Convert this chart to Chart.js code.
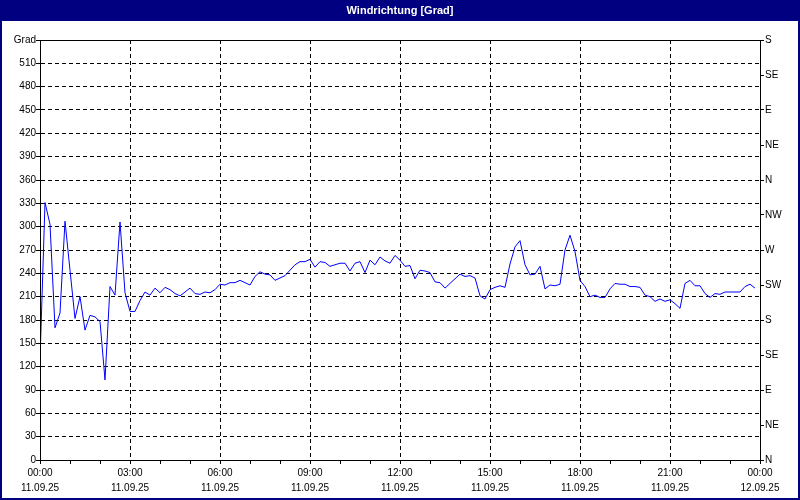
<!DOCTYPE html>
<html>
<head>
<meta charset="utf-8">
<script src="https://cdn.jsdelivr.net/npm/chart.js@4"></script>
<style>
html, body { margin: 0; padding: 0; background: #fff; }
#wrap { width: 800px; height: 500px; }
</style>
</head>
<body>
<div id="wrap"><canvas id="chart" width="800" height="500"></canvas></div>
<script>
// Wind direction in degrees, one reading every 10 minutes from 00:00
const windDir = [
    128, 331, 303, 170, 189, 307, 244, 182, 210, 167, 186, 184,
    178, 103, 223, 212, 306, 215, 191, 191, 205, 216, 212, 221,
    215, 222, 219, 214, 211, 216, 221, 214, 213, 216, 215, 219,
    226, 225, 228, 228, 231, 228, 225, 236, 242, 239, 238, 231,
    234, 237, 244, 251, 255, 255, 258, 248, 255, 254, 249, 251,
    253, 253, 243, 253, 255, 241, 257, 251, 261, 256, 253, 263,
    257, 249, 250, 233, 244, 243, 241, 229, 228, 221, 227, 233,
    239, 236, 237, 234, 211, 207, 219, 222, 224, 222, 252, 274,
    282, 251, 238, 239, 249, 220, 225, 224, 226, 270, 289, 268,
    231, 223, 210, 212, 209, 209, 220, 227, 226, 226, 223, 223,
    222, 212, 210, 204, 207, 204, 206, 201, 195, 227, 231, 224,
    224, 214, 209, 214, 213, 216, 216, 216, 216, 223, 226, 221
];
const stepMinutes = 10;

// tick labels
const timeLabels = ['00:00', '03:00', '06:00', '09:00', '12:00', '15:00', '18:00', '21:00', '00:00'];
const dateLabels = ['11.09.25', '11.09.25', '11.09.25', '11.09.25', '11.09.25', '11.09.25', '11.09.25', '11.09.25', '12.09.25'];
const dirLabels = ['N', 'NE', 'E', 'SE', 'S', 'SW', 'W', 'NW', 'N', 'NE', 'E', 'SE', 'S'];

const FONT = { family: '"Liberation Sans", Arial, sans-serif', size: 10 };

// title bar, white background and frames
const framePlugin = {
    id: 'frame',
    beforeDraw(c) {
        const ctx = c.ctx;
        ctx.save();
        ctx.fillStyle = '#ffffff';
        ctx.fillRect(0, 0, c.width, c.height);
        ctx.fillStyle = '#000080';
        ctx.fillRect(0, 0, c.width, 21);
        ctx.fillStyle = '#ffffff';
        ctx.font = 'bold 11px "Liberation Sans", Arial, sans-serif';
        ctx.textAlign = 'center';
        ctx.textBaseline = 'middle';
        ctx.fillText('Windrichtung [Grad]', c.width / 2, 11);
        ctx.restore();
    },
    afterDraw(c) {
        const ctx = c.ctx;
        const a = c.chartArea;
        ctx.save();
        ctx.strokeStyle = '#000';
        ctx.lineWidth = 1;
        ctx.strokeRect(Math.round(a.left) + 0.5, Math.round(a.top) + 0.5,
            Math.round(a.right - a.left), Math.round(a.bottom - a.top));
        ctx.strokeStyle = '#000080';
        ctx.lineWidth = 2;
        ctx.strokeRect(1, 1, c.width - 2, c.height - 2);
        ctx.restore();
    }
};

const points = windDir.map((v, i) => ({ x: i * stepMinutes, y: v }));

new Chart(document.getElementById('chart'), {
    type: 'line',
    data: {
        datasets: [{
            label: 'Windrichtung',
            data: points,
            borderColor: '#0000ff',
            borderWidth: 1,
            pointRadius: 0,
            tension: 0,
            fill: false
        }]
    },
    options: {
        responsive: false,
        animation: false,
        layout: { padding: { top: 40, left: 0, right: 0, bottom: 0 } },
        plugins: { legend: { display: false }, tooltip: { enabled: false }, title: { display: false } },
        scales: {
            x: {
                type: 'linear',
                min: 0,
                max: 1440,
                afterFit: s => { s.height = 40; },
                afterBuildTicks: s => {
                    s.ticks = [];
                    for (let m = 0; m <= 1440; m += 60) s.ticks.push({ value: m });
                },
                ticks: {
                    autoSkip: false,
                    maxRotation: 0,
                    padding: 2,
                    color: '#000',
                    font: { family: FONT.family, size: 10, lineHeight: 1.5 },
                    callback: v => v % 180 === 0 ? [timeLabels[v / 180], dateLabels[v / 180]] : ''
                },
                grid: {
                    color: ctx => (ctx.tick && ctx.tick.value % 180 === 0) ? '#000' : 'rgba(0,0,0,0)',
                    tickColor: '#000',
                    tickLength: 4,
                    tickBorderDash: [],
                    lineWidth: 1
                },
                border: { color: '#000', dash: [4, 3] }
            },
            y: {
                position: 'left',
                min: 0,
                max: 540,
                afterFit: s => { s.width = 40; },
                ticks: {
                    stepSize: 30,
                    padding: 0,
                    color: '#000',
                    font: FONT,
                    callback: v => v === 540 ? 'Grad' : v
                },
                grid: { color: '#000', tickColor: '#000', tickLength: 4, tickBorderDash: [] },
                border: { color: '#000', dash: [4, 3] }
            },
            y2: {
                position: 'right',
                min: 0,
                max: 540,
                afterFit: s => { s.width = 40; },
                ticks: {
                    stepSize: 45,
                    padding: 1,
                    color: '#000',
                    font: FONT,
                    callback: v => dirLabels[Math.round(v / 45)]
                },
                grid: { drawOnChartArea: false, tickColor: '#000', tickLength: 4 },
                border: { color: '#000' }
            }
        }
    },
    plugins: [framePlugin]
});
</script>
</body>
</html>
